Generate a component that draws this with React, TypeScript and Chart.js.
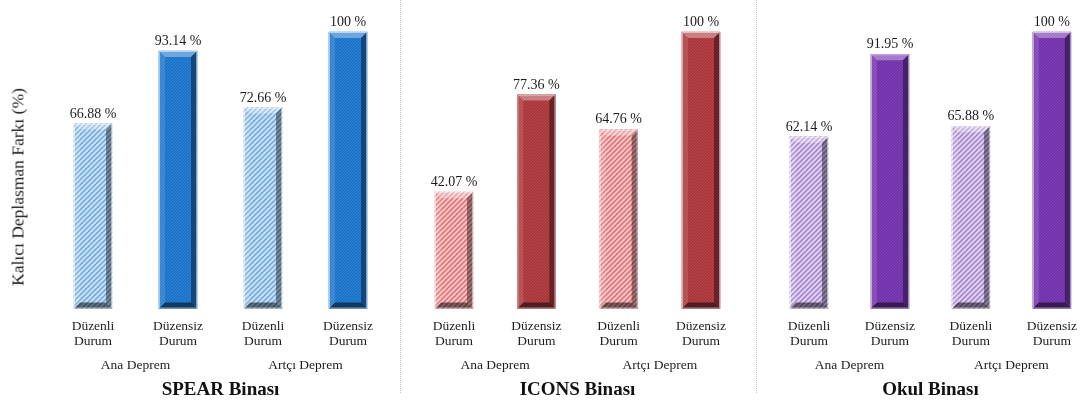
import React, { useEffect, useRef } from "react";
import { Chart, registerables } from "chart.js";

Chart.register(...registerables);

// Category labels (two lines each), group labels and panel titles
const categories = [
  ["Düzenli", "Durum"],
  ["Düzensiz", "Durum"],
  ["Düzenli", "Durum"],
  ["Düzensiz", "Durum"],
];
const groupLabels = ["Ana Deprem", "Artçı Deprem"];
const panelTitles = ["SPEAR Binası", "ICONS Binası", "Okul Binası"];
const yAxisTitle = "Kalıcı Deplasman Farkı (%)";

// Values per building (%)
const spearValues = [66.88, 93.14, 72.66, 100];
const iconsValues = [42.07, 77.36, 64.76, 100];
const okulValues = [62.14, 91.95, 65.88, 100];

const SERIF = "'Liberation Serif', 'Times New Roman', serif";

type Palette = { lightBase: string; lightStripe: string; darkBase: string; darkDot: string };

const palettes: Palette[] = [
  { lightBase: "#c6dff5", lightStripe: "#6aa3da", darkBase: "#1a71c6", darkDot: "#2f86d8" },
  { lightBase: "#f9c3c3", lightStripe: "#db6a6d", darkBase: "#a8353a", darkDot: "#b9474b" },
  { lightBase: "#dfd0f0", lightStripe: "#9c7bc8", darkBase: "#7131a8", darkDot: "#8042b8" },
];

type Panel = {
  left: number;
  width: number;
  padLeft: number;
  padRight: number;
  values: number[];
  title: string;
  palette: Palette;
};

const panels: Panel[] = [
  { left: 0, width: 400, padLeft: 93, padRight: 52, values: spearValues, title: panelTitles[0], palette: palettes[0] },
  { left: 401, width: 355, padLeft: 53, padRight: 55, values: iconsValues, title: panelTitles[1], palette: palettes[1] },
  { left: 757, width: 331, padLeft: 52, padRight: 32, values: okulValues, title: panelTitles[2], palette: palettes[2] },
];

function hatchPattern(base: string, stripe: string): CanvasPattern | string {
  const s = 5;
  const c = document.createElement("canvas");
  c.width = s;
  c.height = s;
  const g = c.getContext("2d");
  if (!g) return base;
  g.fillStyle = base;
  g.fillRect(0, 0, s, s);
  g.strokeStyle = stripe;
  g.lineWidth = 1.3;
  const seg = (x1: number, y1: number, x2: number, y2: number) => {
    g.beginPath();
    g.moveTo(x1, y1);
    g.lineTo(x2, y2);
    g.stroke();
  };
  seg(-1, s + 1, s + 1, -1);
  seg(-1, 1, 1, -1);
  seg(s - 1, s + 1, s + 1, s - 1);
  return g.createPattern(c, "repeat") || base;
}

function dotPattern(base: string, dot: string): CanvasPattern | string {
  const c = document.createElement("canvas");
  c.width = 3;
  c.height = 3;
  const g = c.getContext("2d");
  if (!g) return base;
  g.fillStyle = base;
  g.fillRect(0, 0, 3, 3);
  g.fillStyle = dot;
  g.fillRect(0, 0, 1, 1);
  g.fillRect(2, 1, 1, 1);
  g.fillRect(1, 2, 1, 1);
  return g.createPattern(c, "repeat") || base;
}

function poly(ctx: CanvasRenderingContext2D, pts: number[][], fill: string) {
  ctx.beginPath();
  ctx.moveTo(pts[0][0], pts[0][1]);
  for (let i = 1; i < pts.length; i++) ctx.lineTo(pts[i][0], pts[i][1]);
  ctx.closePath();
  ctx.fillStyle = fill;
  ctx.fill();
}

// Beveled edges on each bar plus the value label above it
const bevelPlugin = {
  id: "bevelBars",
  afterDatasetsDraw(chart: any) {
    const ctx: CanvasRenderingContext2D = chart.ctx;
    const meta = chart.getDatasetMeta(0);
    const data = chart.data.datasets[0].data as number[];
    ctx.save();
    meta.data.forEach((el: any, i: number) => {
      const { x, y, base, width } = el.getProps(["x", "y", "base", "width"], true);
      const L = x - width / 2;
      const R = x + width / 2;
      const T = Math.min(y, base);
      const B = Math.max(y, base);
      const b = 6;
      poly(ctx, [[L, T], [R, T], [R - b, T + b], [L + b, T + b]], "rgba(255,255,255,0.35)");
      poly(ctx, [[L, T], [L + b, T + b], [L + b, B - b], [L, B]], "rgba(255,255,255,0.12)");
      poly(ctx, [[R, T], [R, B], [R - b, B - b], [R - b, T + b]], "rgba(0,0,0,0.4)");
      poly(ctx, [[L, B], [R, B], [R - b, B - b], [L + b, B - b]], "rgba(0,0,0,0.52)");
      ctx.strokeStyle = "rgba(255,255,255,0.5)";
      ctx.lineWidth = 1;
      ctx.strokeRect(L + 0.5, T + 0.5, width - 1, B - T - 1);

      ctx.fillStyle = "#1c1c1c";
      ctx.font = `14px ${SERIF}`;
      ctx.textAlign = "center";
      ctx.textBaseline = "alphabetic";
      ctx.fillText(`${data[i]} %`, x, T - 6);
    });
    ctx.restore();
  },
};

// Earthquake group labels centred under each pair of bars
const groupPlugin = {
  id: "groupLabels",
  afterDraw(chart: any) {
    const ctx: CanvasRenderingContext2D = chart.ctx;
    const xs = chart.scales.x;
    const y = chart.chartArea.bottom + 57;
    ctx.save();
    ctx.fillStyle = "#1c1c1c";
    ctx.font = `13.5px ${SERIF}`;
    ctx.textAlign = "center";
    ctx.textBaseline = "middle";
    groupLabels.forEach((label, g) => {
      const x = (xs.getPixelForValue(2 * g) + xs.getPixelForValue(2 * g + 1)) / 2;
      ctx.fillText(label, x, y);
    });
    ctx.restore();
  },
};

function PanelChart({ panel }: { panel: Panel }) {
  const ref = useRef<HTMLCanvasElement | null>(null);

  useEffect(() => {
    if (!ref.current) return;
    const p = panel.palette;
    const light = hatchPattern(p.lightBase, p.lightStripe);
    const dark = dotPattern(p.darkBase, p.darkDot);
    const chart = new Chart(ref.current, {
      type: "bar",
      data: {
        labels: categories,
        datasets: [
          {
            data: panel.values,
            backgroundColor: [light, dark, light, dark] as any,
            borderWidth: 0,
            barThickness: 38,
            clip: false as any,
          },
        ],
      },
      options: {
        animation: false,
        responsive: true,
        maintainAspectRatio: false,
        layout: { padding: { left: panel.padLeft, right: panel.padRight, top: 32, bottom: 0 } },
        plugins: { legend: { display: false }, tooltip: { enabled: false } },
        scales: {
          x: {
            type: "category",
            offset: false,
            grid: { display: false, drawTicks: false },
            border: { display: false },
            ticks: {
              color: "#1c1c1c",
              font: { family: SERIF, size: 13.5, lineHeight: 1.1 },
              padding: 11,
              maxRotation: 0,
              autoSkip: false,
            },
            title: {
              display: true,
              text: panel.title,
              color: "#111",
              font: { family: SERIF, size: 19, weight: "bold", lineHeight: 1.2 },
              padding: { top: 18, bottom: 4 },
            },
          },
          y: { display: false, min: 0, max: 100 },
        },
      },
      plugins: [bevelPlugin, groupPlugin],
    });
    return () => chart.destroy();
  }, [panel]);

  return (
    <div style={{ position: "absolute", left: panel.left, top: 0, width: panel.width, height: 405 }}>
      <canvas ref={ref} />
    </div>
  );
}

export default function App() {
  return (
    <div
      style={{
        position: "fixed",
        left: 0,
        top: 0,
        width: 1088,
        height: 405,
        background: "#ffffff",
        overflow: "hidden",
      }}
    >
      {panels.map((p, i) => (
        <PanelChart key={i} panel={p} />
      ))}
      <div
        style={{ position: "absolute", left: 400, top: 0, height: 393, width: 0, borderLeft: "1px dotted #c4c4c4" }}
      />
      <div
        style={{ position: "absolute", left: 756, top: 0, height: 393, width: 0, borderLeft: "1px dotted #c4c4c4" }}
      />
      <div
        style={{
          position: "absolute",
          left: 18,
          top: 187,
          transform: "translate(-50%, -50%) rotate(-90deg)",
          whiteSpace: "nowrap",
          fontFamily: SERIF,
          fontSize: 17.5,
          color: "#1c1c1c",
        }}
      >
        {yAxisTitle}
      </div>
    </div>
  );
}
